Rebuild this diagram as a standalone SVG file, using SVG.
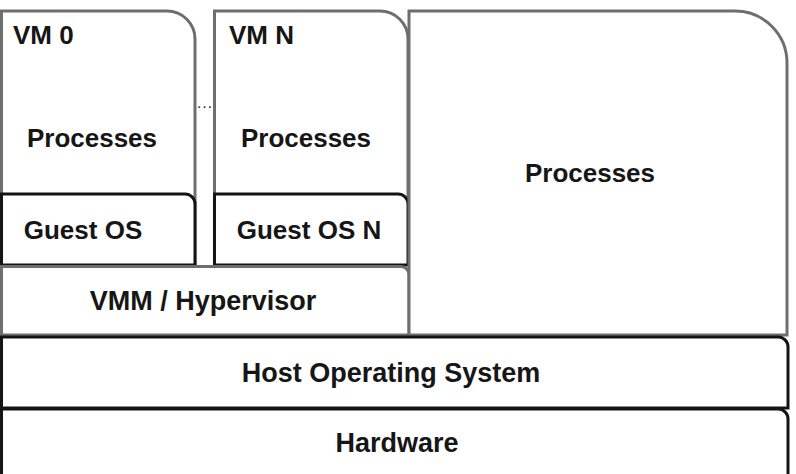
<svg xmlns="http://www.w3.org/2000/svg" width="796" height="474" viewBox="0 0 796 474">
<style>
.g{fill:#fff;stroke:#6e6e6e;stroke-width:3}
.k{fill:#fff;stroke:#141414;stroke-width:3}
text{font-family:"Liberation Sans",Arial,sans-serif;font-weight:bold;font-size:26px;fill:#161616}
.c{text-anchor:middle}
</style>
<rect width="796" height="474" fill="#fff"/>
<g id="vm0">
<path class="g" d="M1.5,265 V11 H167 A28,28 0 0 1 195,39 V265"/>
<text x="13" y="44">VM 0</text>
<text class="c" x="92" y="147">Processes</text>
</g>
<g id="guest-os">
<path class="k" d="M1.5,265 V194 H185 A10,10 0 0 1 195,204 V265 Z"/>
<text class="c" x="83" y="239">Guest OS</text>
</g>
<g id="vmn">
<path class="g" d="M214.5,265 V11 H380 A28,28 0 0 1 408,39 V265"/>
<text x="229" y="44">VM N</text>
<text class="c" x="306" y="147">Processes</text>
</g>
<g id="guest-os-n">
<path class="k" d="M214.5,265 V194 H398 A10,10 0 0 1 408,204 V265 Z"/>
<text class="c" x="309" y="239">Guest OS N</text>
</g>
<g id="ellipsis">
<text class="c" x="204.5" y="108" style="font-size:17px;font-weight:normal;fill:#333">…</text>
</g>
<g id="vmm">
<path class="g" d="M1.5,335 V266.5 H401 A8,8 0 0 1 409,274.5 V335 Z"/>
<text class="c" x="203" y="310" style="font-size:27px">VMM / Hypervisor</text>
</g>
<g id="host-processes">
<path class="g" d="M409,335 V11 H735 A52,52 0 0 1 787,63 V335 Z"/>
<text class="c" x="590" y="182">Processes</text>
</g>
<g id="host-os">
<path class="k" d="M1.5,408 V337 H778 A10,10 0 0 1 788,347 V408 Z"/>
<text class="c" x="391" y="382" style="font-size:27px">Host Operating System</text>
</g>
<g id="hardware">
<path class="k" d="M1.5,490 V409 H778 A10,10 0 0 1 788,419 V490"/>
<text class="c" x="397" y="452" style="font-size:27px">Hardware</text>
</g>
<g id="connectors"></g>
</svg>
